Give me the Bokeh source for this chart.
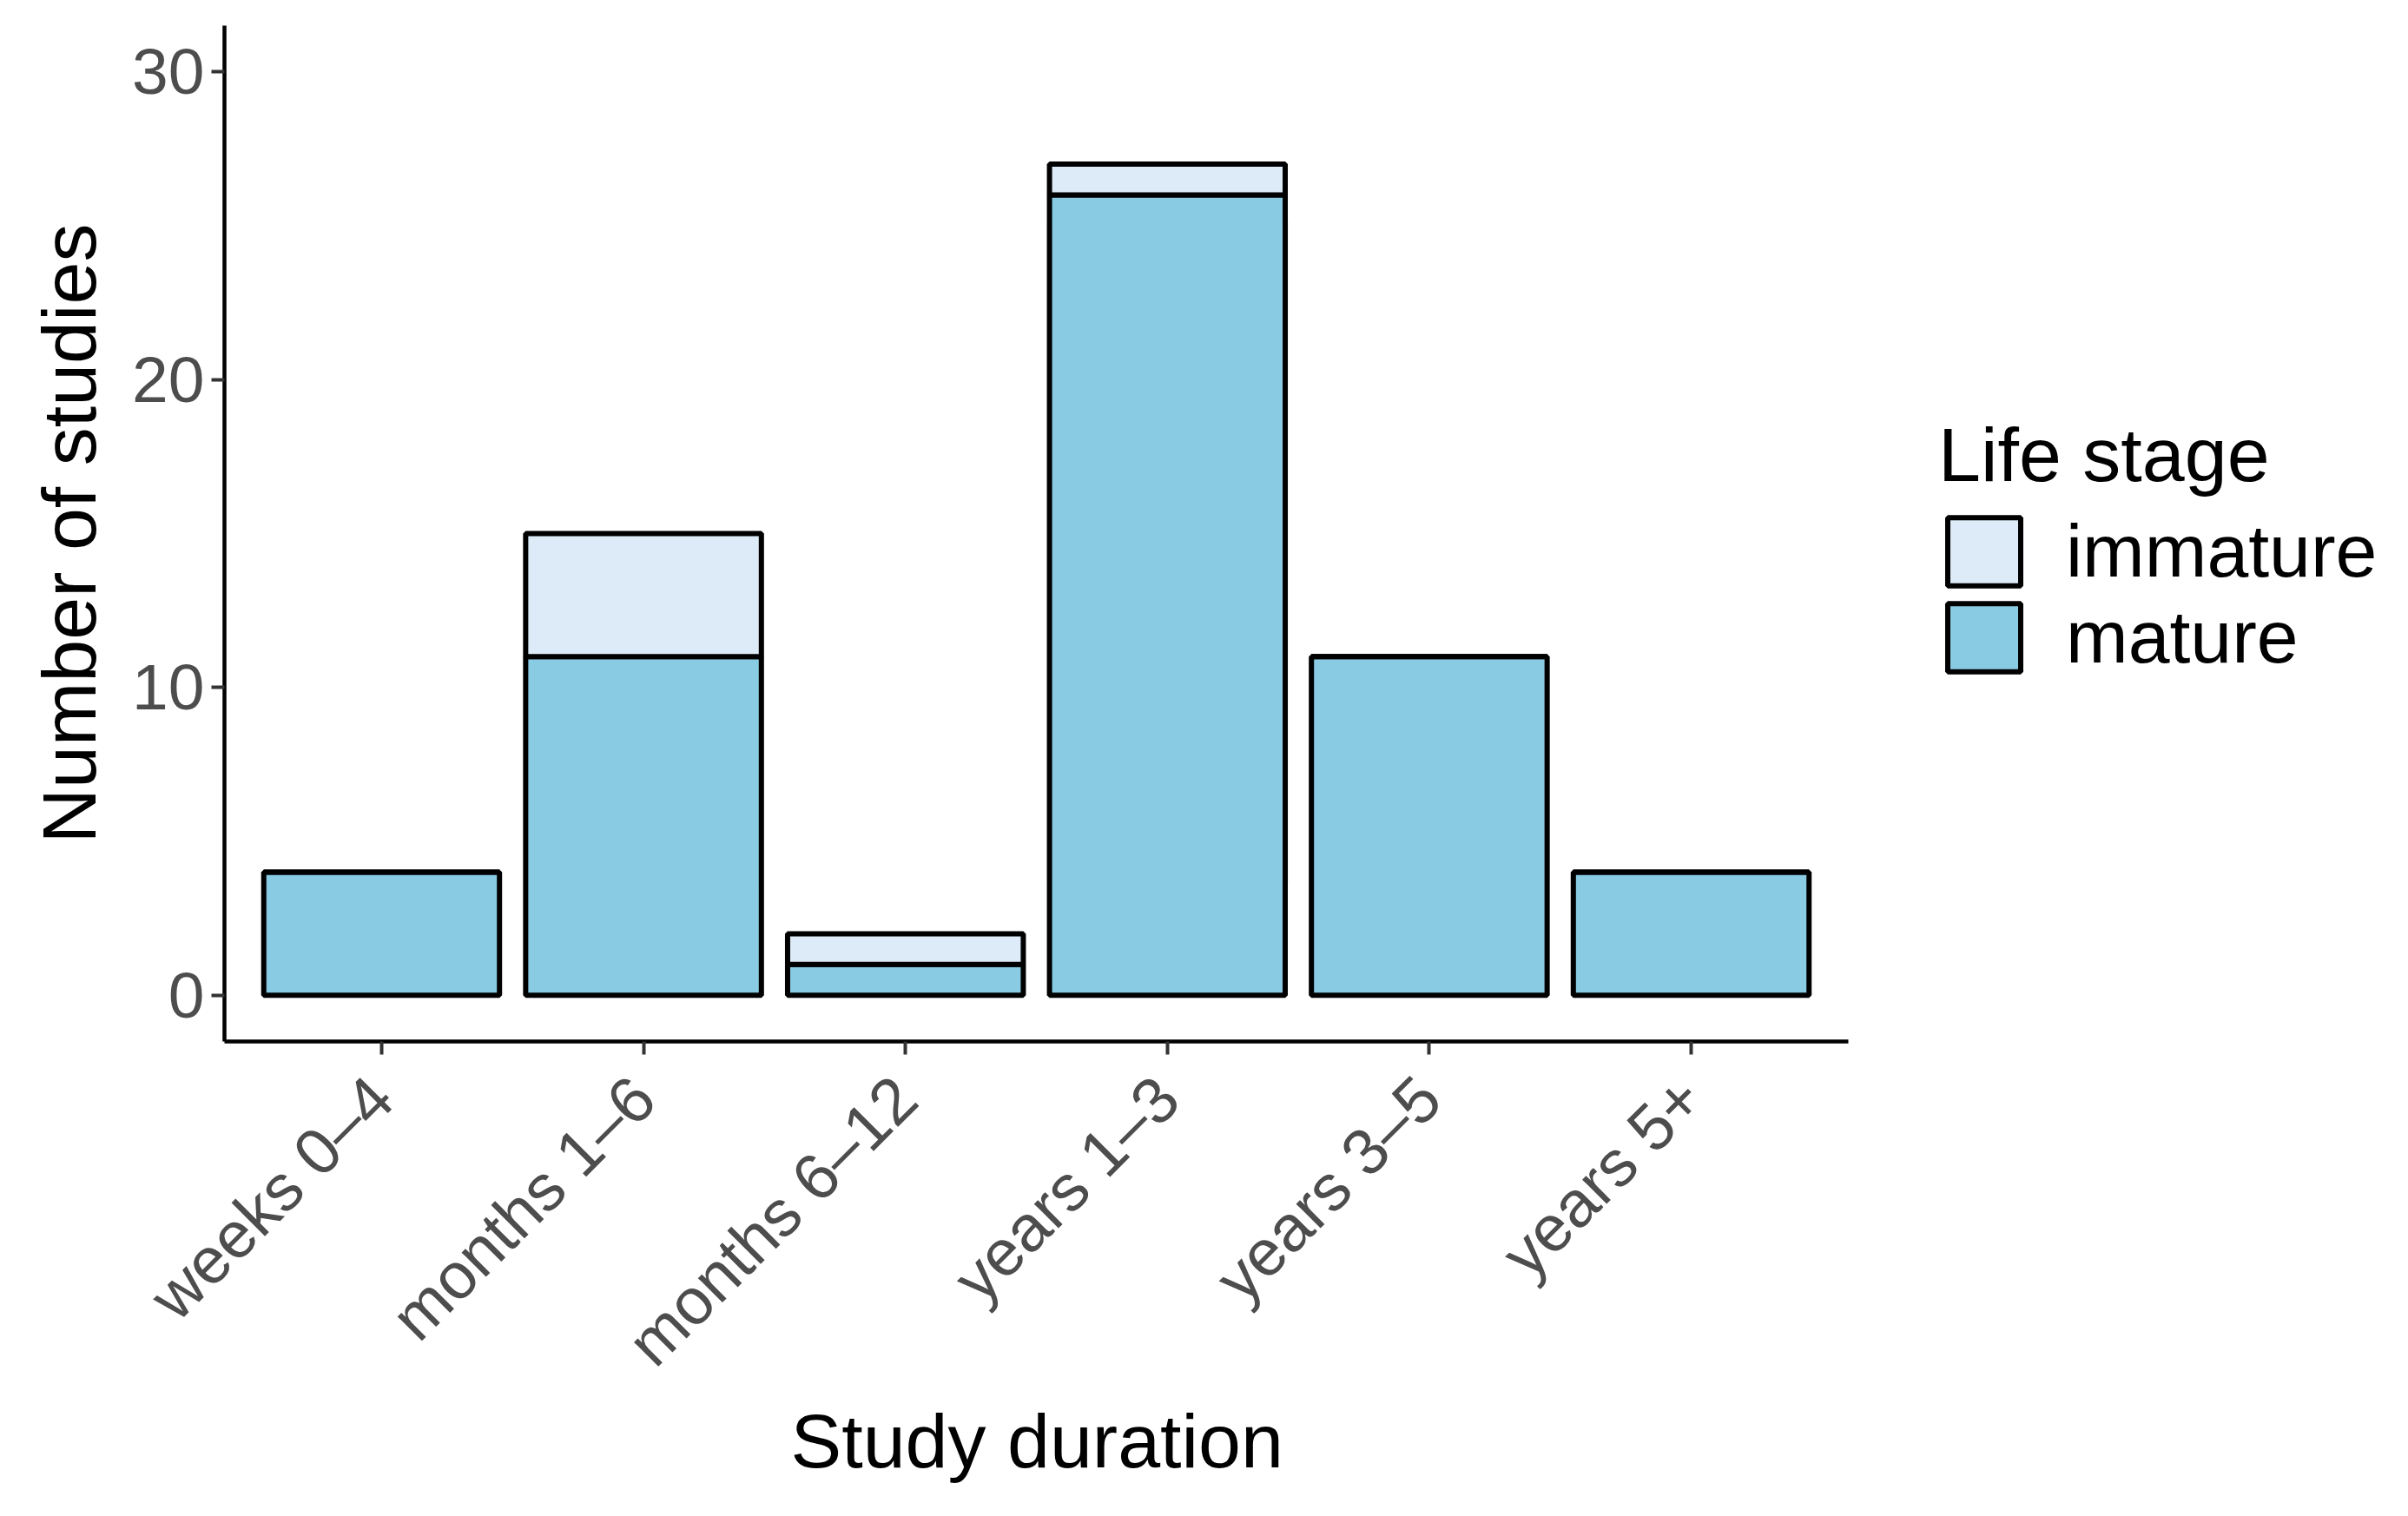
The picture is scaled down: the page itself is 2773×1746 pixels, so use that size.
from bokeh.plotting import figure
from bokeh.models import ColumnDataSource, Range1d, FixedTicker, Legend, LegendItem, Title
from bokeh.embed import file_html
from bokeh.resources import INLINE

categories = ["weeks 0–4", "months 1–6", "months 6–12", "years 1–3", "years 3–5", "years 5+"]
mature = [4, 11, 1, 26, 11, 4]
immature = [0, 4, 1, 1, 0, 0]
y_ticks = [0, 10, 20, 30]

FONT = "Liberation Sans"
MATURE_COLOR = "#89CBE3"
IMMATURE_COLOR = "#DCEBF7"

# layout (pixels)
W, H = 2757, 1730
BL, BR, BT, BB = 258, 10, 29, 531
AXIS_W = 1870          # width of the drawn x axis
FRAME_W = W - BL - BR  # frame extended to the right to hold the legend

xs = list(range(1, len(categories) + 1))
x0, x1 = 0.4, len(categories) + 0.6
x_end = x0 + (x1 - x0) * FRAME_W / AXIS_W

src = ColumnDataSource(dict(x=xs, mature=mature, immature=immature))

p = figure(width=W, height=H, output_backend="svg", toolbar_location=None,
           x_range=Range1d(x0, x_end), y_range=Range1d(-1.5, 31.5),
           min_border_left=BL, min_border_right=BR, min_border_top=BT, min_border_bottom=BB)

rs = p.vbar_stack(["mature", "immature"], x="x", width=0.9, source=src,
                  fill_color=[MATURE_COLOR, IMMATURE_COLOR], line_color="black", line_width=6)

p.xgrid.visible = False
p.ygrid.visible = False
p.outline_line_color = None

for ax in (p.xaxis[0], p.yaxis[0]):
    ax.axis_line_color = "black"
    ax.axis_line_width = 4.5
    ax.major_tick_line_color = "#333333"
    ax.major_tick_line_width = 4
    ax.major_tick_out = 15
    ax.major_tick_in = 0
    ax.minor_tick_line_color = None
    ax.major_label_text_font = FONT
    ax.major_label_text_font_size = "75px"
    ax.major_label_text_color = "#4D4D4D"
    ax.axis_label_text_font = FONT
    ax.axis_label_text_font_size = "88px"
    ax.axis_label_text_font_style = "normal"
    ax.axis_label_text_color = "black"

p.xaxis.bounds = (x0, x1)
p.xaxis.ticker = FixedTicker(ticks=xs)
p.xaxis.major_label_overrides = {x: c for x, c in zip(xs, categories)}
p.xaxis.major_label_orientation = 0.785398
p.xaxis.major_label_standoff = 38

# x axis title centred under the drawn axis (not the extended frame)
x_title_text = "Study duration"
p.add_layout(Title(text=x_title_text, align="left", offset=652, standoff=-27,
                   text_font=FONT, text_font_size="88px", text_font_style="normal",
                   text_color="black"), "below")

p.yaxis.ticker = FixedTicker(ticks=y_ticks)
p.yaxis.major_label_standoff = 8
p.yaxis.axis_label = "Number of studies"
p.yaxis.axis_label_standoff = 20

legend = Legend(items=[LegendItem(label="immature", renderers=[rs[1]]),
                       LegendItem(label="mature", renderers=[rs[0]])],
                location=(1974, 416), title="Life stage",
                title_text_font=FONT, title_text_font_size="88px", title_text_font_style="normal",
                title_text_color="black", title_standoff=10,
                label_text_font=FONT, label_text_font_size="86px", label_text_color="black",
                glyph_width=105, glyph_height=98, label_height=84, spacing=0,
                label_standoff=42, padding=0, margin=0,
                border_line_alpha=0, background_fill_alpha=0)
p.add_layout(legend, "center")

open("out.html", "w").write(file_html(p, INLINE))
